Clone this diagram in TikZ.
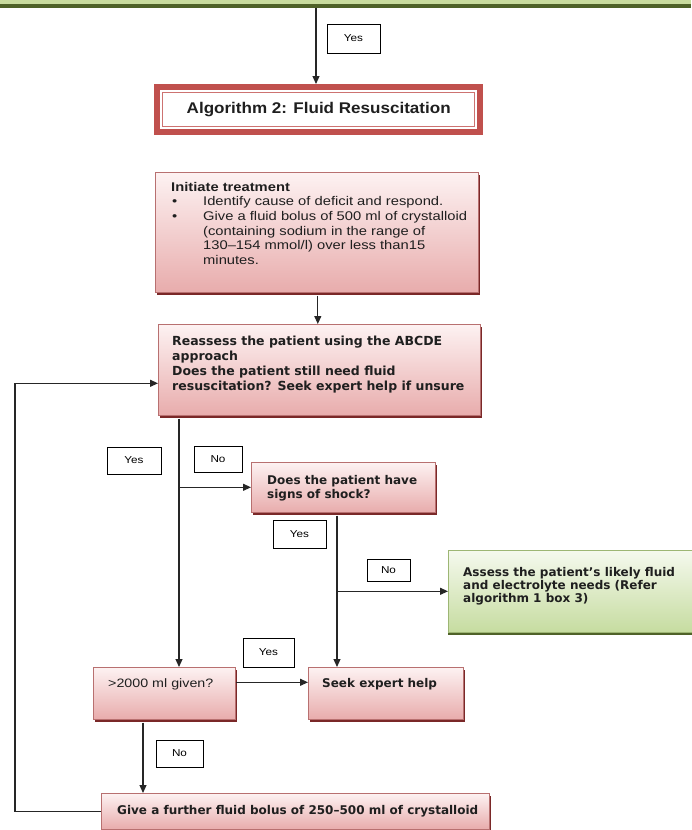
\documentclass[tikz,border=0pt]{standalone}
\usepackage{fontspec}
\setmainfont{Liberation Sans}
\newfontfamily\arialS{Liberation Sans}[FakeStretch=1.17]
\newfontfamily\arialT{Liberation Sans}[FakeStretch=1.1]
\newfontfamily\tah{DejaVu Sans}
\usetikzlibrary{arrows.meta,shadows}
\definecolor{pinkT}{HTML}{FDF2F2}
\definecolor{pinkB}{HTML}{E8ACAC}
\definecolor{pinkD}{HTML}{B87070}
\definecolor{maroon}{HTML}{7A2828}
\definecolor{algred}{HTML}{C0504D}
\definecolor{greenT}{HTML}{F5F9EE}
\definecolor{greenB}{HTML}{C6DCA0}
\definecolor{greenD}{HTML}{9DB674}
\definecolor{greenS}{HTML}{4F6228}
\definecolor{barG}{HTML}{C9DC9E}
\definecolor{lineC}{HTML}{262626}
\tikzset{
  pbox/.style={draw=pinkD, line width=0.6pt, top color=pinkT, bottom color=pinkB, inner sep=0, anchor=north west,
    drop shadow={shadow xshift=2pt, shadow yshift=-3pt, fill=maroon, opacity=1}},
  gbox/.style={draw=greenD, line width=0.6pt, top color=greenT, bottom color=greenB, inner sep=0, anchor=north west,
    drop shadow={shadow xshift=0pt, shadow yshift=-3pt, fill=greenS, opacity=1}},
  lbl/.style={draw=black, line width=0.8pt, fill=white, inner sep=0, font=\arialS\fontsize{10}{12}\selectfont},
  txt/.style={anchor=north west, inner sep=0, align=left, text=black!88},
  arr/.style={draw=lineC, line width=1.1pt, -{Triangle[length=8pt,width=7pt]}},
}
\begin{document}
\begin{tikzpicture}[x=1pt,y=-1pt]
\useasboundingbox (0,0) rectangle (691,830);
\fill[white] (0,0) rectangle (691,830);
% top bar (end of previous box)
\fill[barG] (0,0) rectangle (691,4);
\fill[greenS] (0,4) rectangle (691,7.5);
\coordinate (topc) at (316,7.5);
% Algorithm 2 title box
\node[fill=algred, minimum width=329pt, minimum height=51pt, inner sep=0, anchor=north west] (alg) at (154,84) {};
\node[fill=white, minimum width=317pt, minimum height=39pt, inner sep=0] (algin) at (alg.center) {};
\node[draw=algred!80, line width=0.9pt, fill=white, minimum width=312pt, minimum height=34pt, inner sep=0,
  font=\arialT\bfseries\fontsize{15.5}{18}\selectfont, text=black!88] (algt) at (alg.center) {Algorithm 2: Fluid Resuscitation};
% Initiate treatment
\node[pbox, minimum width=323pt, minimum height=120pt] (init) at (155,172) {};
\node[txt, font=\arialS\fontsize{12.6}{14.6}\selectfont] (initt) at (171,182) {\textbf{Initiate treatment}\\
\hspace*{1pt}\makebox[31pt][l]{\textbullet}Identify cause of deficit and respond.\\
\hspace*{1pt}\makebox[31pt][l]{\textbullet}Give a fluid bolus of 500 ml of crystalloid\\
\hspace*{32pt}(containing sodium in the range of\\
\hspace*{32pt}130–154 mmol/l) over less than15\\
\hspace*{32pt}minutes.};
% Reassess
\node[pbox, minimum width=322pt, minimum height=91pt] (reas) at (158,324) {};
\node[txt, font=\tah\bfseries\fontsize{12.5}{15}\selectfont] (reast) at (172,336) {Reassess the patient using the ABCDE\\approach\\Does the patient still need fluid\\resuscitation? Seek expert help if unsure};
% Shock
\node[pbox, minimum width=184pt, minimum height=50pt] (shock) at (251,462) {};
\node[txt, font=\tah\bfseries\fontsize{12}{14}\selectfont] (shockt) at (267,475) {Does the patient have\\signs of shock?};
% Green box
\node[gbox, minimum width=260pt, minimum height=82pt] (green) at (448,550) {};
\node[txt, font=\tah\bfseries\fontsize{12}{13}\selectfont] (greent) at (463,567) {Assess the patient’s likely fluid\\and electrolyte needs (Refer\\algorithm 1 box 3)};
% Seek expert help
\node[pbox, minimum width=155pt, minimum height=52pt] (seek) at (308,667) {};
\node[txt, font=\tah\bfseries\fontsize{12}{14}\selectfont] (seekt) at (322,678) {Seek expert help};
% >2000 ml given?
\node[pbox, minimum width=142pt, minimum height=52pt] (g2000) at (93,667) {};
\node[txt, font=\arialS\fontsize{12.2}{14}\selectfont] (g2000t) at (108,678) {>2000 ml given?};
% Give a further bolus
\node[pbox, minimum width=388pt, minimum height=36pt] (give) at (101,793) {};
\node[txt, font=\tah\bfseries\fontsize{12}{14}\selectfont] (givet) at (117,805) {Give a further fluid bolus of 250–500 ml of crystalloid};
% labels
\node[lbl, minimum width=53pt, minimum height=29pt] (yes0) at (353.5,38.5) {Yes};
\node[lbl, minimum width=54pt, minimum height=27pt] (yes1) at (134,460.5) {Yes};
\node[lbl, minimum width=48pt, minimum height=26pt] (no1) at (218,459) {No};
\node[lbl, minimum width=53pt, minimum height=28pt] (yes2) at (299.5,534) {Yes};
\node[lbl, minimum width=43pt, minimum height=22pt] (no2) at (388.5,570) {No};
\node[lbl, minimum width=51pt, minimum height=29pt] (yes3) at (268.5,652.5) {Yes};
\node[lbl, minimum width=47pt, minimum height=27pt] (no3) at (179.5,753.5) {No};
% connectors
\coordinate (yx) at (179,0);
\coordinate (sx) at (337,0);
\coordinate (nx) at (143,0);
\draw[arr] (topc) -- (topc |- alg.north);
\draw[arr] ([xshift=1pt,yshift=-3pt]init.south) -- ([xshift=1pt]init.south |- reas.north);
\draw[arr] ([yshift=-3pt]yx |- reas.south) -- (yx |- g2000.north);
\draw[arr] (yx |- shock.west) -- (shock.west);
\draw[arr] ([yshift=-3pt]sx |- shock.south) -- (sx |- seek.north);
\draw[arr] (sx |- green.west) -- (green.west);
\draw[arr] ([yshift=11pt]g2000.east) -- ([yshift=11pt]seek.west);
\draw[arr] ([yshift=-3pt]nx |- g2000.south) -- (nx |- give.north);
\draw[arr] (give.west) -- ++(-86,0) |- ([yshift=-13.5pt]reas.west);
\end{tikzpicture}
\end{document}
